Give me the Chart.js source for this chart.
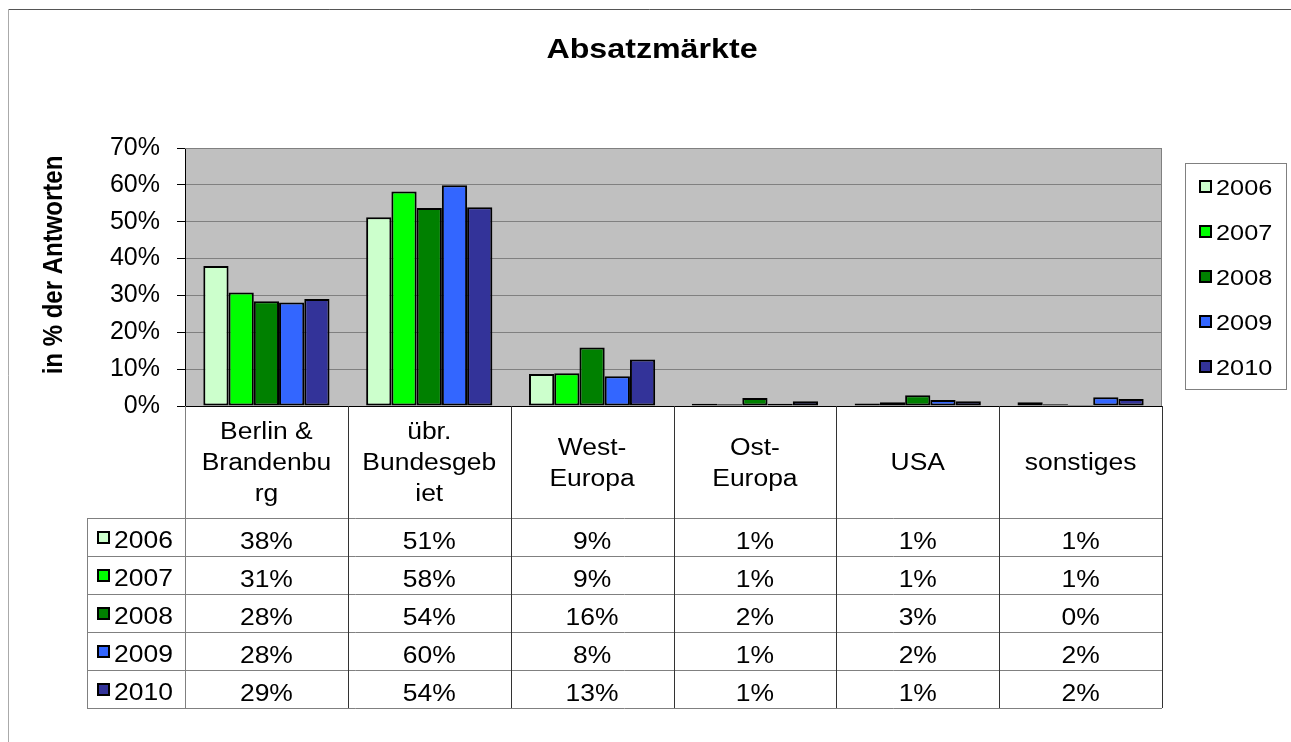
<!DOCTYPE html>
<html>
<head>
<meta charset="utf-8">
<script src="https://cdn.jsdelivr.net/npm/chart.js@4.4.1/dist/chart.umd.min.js"></script>
<style>
  html, body { margin: 0; padding: 0; background: #fff; }
  canvas { display: block; }
</style>
</head>
<body>
<canvas id="c" width="1291" height="742"></canvas>
<script>
// categories (line breaks as in the original data table header)
const categories = [
    ['Berlin &', 'Brandenbu', 'rg'],
    ['übr.', 'Bundesgeb', 'iet'],
    ['West-', 'Europa'],
    ['Ost-', 'Europa'],
    ['USA'],
    ['sonstiges']
];
const years = ['2006', '2007', '2008', '2009', '2010'];
const colors = ['#ccffcc', '#00ff00', '#008000', '#3366ff', '#333399'];

// values in percent
const v2006 = [38.0, 51.2, 8.7, 0.6, 0.7, 1.0];
const v2007 = [30.8, 58.2, 8.9, 0.5, 1.0, 0.5];
const v2008 = [28.4, 53.7, 15.9, 2.2, 2.9, 0.3];
const v2009 = [28.1, 59.9, 8.1, 0.6, 1.6, 2.4];
const v2010 = [29.0, 53.9, 12.6, 1.3, 1.3, 1.9];
const series = [v2006, v2007, v2008, v2009, v2010];

const yTicks = [0, 10, 20, 30, 40, 50, 60, 70];

const FONT = '"Liberation Sans", Arial, sans-serif';
const SX = 1.15; // the original text is a bit wider than Arial

function txt(ctx, s, x, y, size, bold, align) {
    ctx.save();
    ctx.font = (bold ? 'bold ' : '') + size + 'px ' + FONT;
    ctx.fillStyle = '#000';
    ctx.translate(x, y);
    ctx.scale(SX, 1);
    ctx.textAlign = align || 'center';
    ctx.textBaseline = 'alphabetic';
    ctx.fillText(s, 0, 0);
    ctx.restore();
}

function swatch(ctx, x, y, size, color) {
    ctx.fillStyle = color;
    ctx.fillRect(x, y, size, size);
    ctx.strokeStyle = '#000';
    ctx.lineWidth = 2;
    ctx.strokeRect(x + 1, y + 1, size - 2, size - 2);
}

function line(ctx, x1, y1, x2, y2, color) {
    ctx.strokeStyle = color;
    ctx.lineWidth = 1;
    ctx.beginPath();
    ctx.moveTo(x1, y1);
    ctx.lineTo(x2, y2);
    ctx.stroke();
}

const decor = {
    id: 'decor',
    beforeDraw(chart) {
        const { ctx, chartArea: a } = chart;
        ctx.save();
        ctx.fillStyle = '#fff';
        ctx.fillRect(0, 0, chart.width, chart.height);
        ctx.fillStyle = '#c0c0c0';
        ctx.fillRect(a.left, a.top, a.right - a.left, a.bottom - a.top);
        ctx.restore();
    },
    afterDraw(chart) {
        const { ctx, chartArea: a } = chart;
        const x = chart.scales.x;
        ctx.save();

        // outer frame
        line(ctx, 8.5, 9.5, chart.width, 9.5, '#555');
        line(ctx, 8.5, 9.5, 8.5, chart.height, '#aaa');

        // plot border top / right
        line(ctx, a.left, a.top + 0.5, a.right, a.top + 0.5, '#808080');
        line(ctx, a.right - 0.5, a.top, a.right - 0.5, a.bottom, '#808080');

        // title
        txt(ctx, 'Absatzmärkte', 652, 58, 28, true);

        // y axis title
        ctx.save();
        ctx.font = 'bold 24px ' + FONT;
        ctx.fillStyle = '#000';
        ctx.translate(62, 265);
        ctx.scale(SX, 1);
        ctx.rotate(-Math.PI / 2);
        ctx.textAlign = 'center';
        ctx.fillText('in % der Antworten', 0, 0);
        ctx.restore();

        // data table
        const half = (x.getPixelForValue(1) - x.getPixelForValue(0)) / 2;
        const tLeft = 87, tTop = a.bottom, hdrBottom = 518, rowH = 38;
        const tBottom = hdrBottom + rowH * years.length;

        for (let r = 0; r <= years.length; r++) {
            const yy = hdrBottom + r * rowH + 0.5;
            line(ctx, tLeft, yy, a.right, yy, '#808080');
        }
        line(ctx, tLeft + 0.5, hdrBottom, tLeft + 0.5, tBottom, '#808080');
        for (let i = 0; i <= categories.length; i++) {
            const xx = Math.round(x.getPixelForValue(i) - half) + 0.5;
            line(ctx, xx, tTop, xx, tBottom, i === 0 ? '#808080' : '#333');
        }

        categories.forEach((lines, i) => {
            const cx = x.getPixelForValue(i);
            lines.forEach((s, j) => {
                txt(ctx, s, cx, 470 + (j - (lines.length - 1) / 2) * 31, 23, false);
            });
        });

        years.forEach((yr, r) => {
            const top = hdrBottom + r * rowH;
            swatch(ctx, 97, top + 13, 13, colors[r]);
            txt(ctx, yr, 114, top + 30, 23, false, 'left');
            series[r].forEach((v, i) => {
                txt(ctx, Math.round(v) + '%', x.getPixelForValue(i), top + 31, 23, false);
            });
        });

        // legend
        ctx.strokeStyle = '#808080';
        ctx.lineWidth = 1;
        ctx.strokeRect(1185.5, 163.5, 101, 226);
        years.forEach((yr, r) => {
            const cy = 187 + r * 45;
            swatch(ctx, 1199, cy - 7, 13, colors[r]);
            txt(ctx, yr, 1216, cy + 8, 22, false, 'left');
        });

        ctx.restore();
    }
};

new Chart(document.getElementById('c'), {
    type: 'bar',
    data: {
        labels: categories,
        datasets: years.map((yr, i) => ({
            label: yr,
            data: series[i],
            backgroundColor: colors[i],
            borderColor: '#000',
            borderWidth: 2,
            borderSkipped: false,
            categoryPercentage: 0.775,
            barPercentage: 1.0
        }))
    },
    options: {
        responsive: false,
        animation: false,
        layout: { padding: { left: 0, top: 148, right: 129, bottom: 336 } },
        plugins: {
            legend: { display: false },
            title: { display: false },
            tooltip: { enabled: false }
        },
        scales: {
            x: { display: false },
            y: {
                min: 0,
                max: 70,
                afterFit: s => { s.width = 185; },
                afterBuildTicks: s => { s.ticks = yTicks.map(v => ({ value: v })); },
                ticks: {
                    callback: v => v + '%',
                    color: '#000',
                    padding: 17,
                    font: { family: FONT, size: 25 }
                },
                grid: {
                    color: c => (c.tick && c.tick.value === 0) ? '#000' : '#808080',
                    tickColor: '#000',
                    tickLength: 8,
                    lineWidth: 1
                },
                border: { display: true, color: '#000', width: 1 }
            }
        }
    },
    plugins: [decor]
});
</script>
</body>
</html>
